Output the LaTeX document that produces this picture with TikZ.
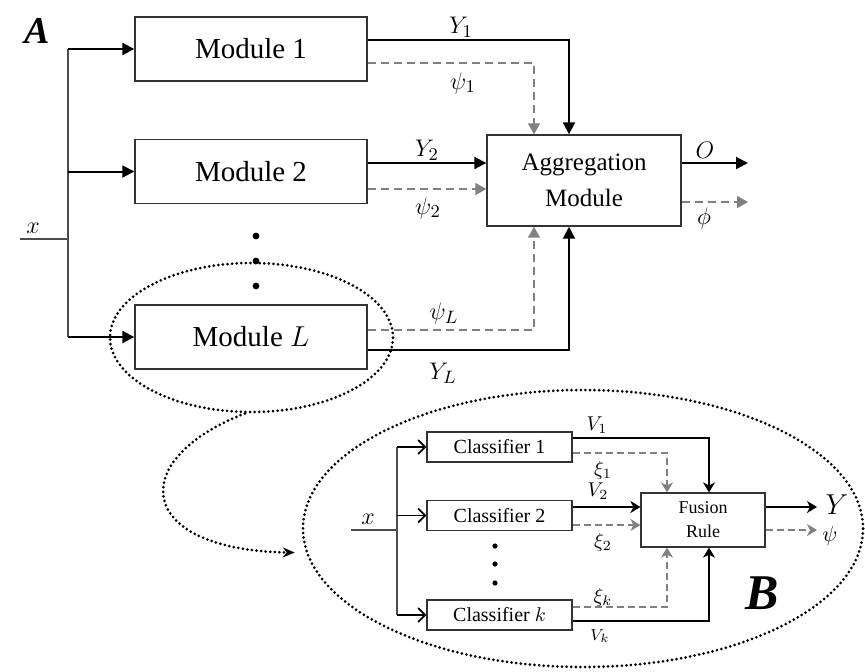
\documentclass[tikz,border=0pt]{standalone}
\usepackage{fontspec}
\setmainfont{Liberation Serif}
\usetikzlibrary{arrows.meta,shapes.geometric}
\begin{document}
\begin{tikzpicture}[x=0.5pt,y=-0.5pt,
  module/.style={draw=black!80,line width=0.7pt,inner sep=0pt,minimum width=116pt,minimum height=32pt,font=\fontsize{14.5}{16}\selectfont},
  classifier/.style={draw=black!80,line width=0.6pt,inner sep=0pt,minimum width=72.5pt,minimum height=15pt,font=\fontsize{10}{12}\selectfont},
  arr/.style={line width=1pt,-{Triangle[length=6pt,width=6pt]}},
  darr/.style={gray,line width=0.75pt,dash pattern=on 4pt off 2.5pt,-{Triangle[length=5.5pt,width=6pt]}},
  barr/.style={line width=0.9pt,-{Stealth[length=5pt,width=6pt,inset=1.5pt]}},
  bdarr/.style={gray,line width=0.65pt,dash pattern=on 3.5pt off 2pt,-{Stealth[length=5pt,width=6pt,inset=1.5pt]}},
  inarr/.style={line width=0.9pt,-{Straight Barb[length=3.5pt,width=7pt]}},
  wire/.style={black!70,line width=0.65pt},
  dots/.style={line width=1.5pt,dash pattern=on 0pt off 2.3pt,line cap=round},
  lab/.style={inner sep=0pt,font=\fontsize{13}{15}\selectfont},
  blab/.style={inner sep=0pt,font=\fontsize{10}{12}\selectfont}]
\useasboundingbox (0,0) rectangle (865,671);

% part A
\node (tagA) [font=\fontsize{19}{20}\selectfont\bfseries\itshape] at (37,31) {A};
\node (m1) [module] at (251,49) {Module 1};
\node (m2) [module] at (251,171.5) {Module 2};
\node (mL) [module] at (251,337) {Module $L$};
\node (agg) [draw=black!80,line width=0.7pt,inner sep=0pt,minimum width=97pt,minimum height=45.5pt,align=center,font=\fontsize{12.5}{18}\selectfont] at (584,180.5) {Aggregation\\Module};

\coordinate (xin) at (20,239);
\coordinate (split) at (68,239);
\node (lx) [lab] at (33,228) {$x$};
\draw [wire] (xin) -- (split);
\draw [wire] (m1.west -| split) -- (mL.west -| split);
\foreach \m in {m1,m2,mL}
  \draw [arr] (\m.west -| split) -- (\m.west);
\foreach \y in {236,261,286}
  \fill (256,\y) circle (1.7pt);

\draw [arr] ([yshift=4.5pt]m1.east) -| ([xshift=-7.5pt]agg.north);
\draw [darr] ([yshift=-7pt]m1.east) -| ([xshift=-25pt]agg.north);
\coordinate (y2) at ([yshift=4.25pt]m2.east);
\coordinate (p2) at ([yshift=-8.75pt]m2.east);
\draw [arr] (y2) -- (y2 -| agg.west);
\draw [darr] (p2) -- (p2 -| agg.west);
\draw [darr] ([yshift=3.5pt]mL.east) -| ([xshift=-25pt]agg.south);
\draw [arr] ([yshift=-6.5pt]mL.east) -| ([xshift=-7.5pt]agg.south);

\coordinate (aout) at (748,0);
\coordinate (o) at ([yshift=8.75pt]agg.east);
\coordinate (f) at ([yshift=-10.75pt]agg.east);
\draw [arr] (o) -- (o -| aout);
\draw [darr] (f) -- (f -| aout);

\node (ly1) [lab] at (461,27) {$Y_1$};
\node (lp1) [lab] at (463,83) {$\psi_1$};
\node (ly2) [lab] at (427,150) {$Y_2$};
\node (lp2) [lab] at (428,208) {$\psi_2$};
\node (lpL) [lab] at (444,313) {$\psi_L$};
\node (lyL) [lab] at (443,373) {$Y_L$};
\node (lo) [lab] at (705,150) {$O$};
\node (lf) [lab] at (704,218) {$\phi$};

% zoom
\node (zoomA) [ellipse,dots,draw,inner sep=0pt,minimum width=141.5pt,minimum height=74.5pt] at (251.5,337.5) {};
\node (zoomB) [ellipse,dots,draw,inner sep=0pt,minimum width=280pt,minimum height=138.5pt] at (583,528.5) {};
\draw [dots,shorten >=5.5pt,-{Stealth[length=6pt,width=5pt,inset=2pt]}] (zoomA.265) .. controls (125,460) and (135,550) .. (zoomB.185);

% part B
\node (tagB) [font=\fontsize{25}{26}\selectfont\bfseries\itshape] at (762,593) {B};
\node (c1) [classifier] at (499.5,447) {Classifier 1};
\node (c2) [classifier] at (499.5,515.5) {Classifier 2};
\node (ck) [classifier] at (499.5,615) {Classifier $k$};
\node (fus) [draw=black!80,line width=0.6pt,inner sep=0pt,minimum width=62pt,minimum height=27pt,align=center,font=\fontsize{9}{12}\selectfont] at (703,520) {Fusion\\Rule};

\coordinate (bxin) at (351,530);
\coordinate (bsplit) at (397,530);
\node (lbx) [lab] at (368,519) {$x$};
\draw [wire] (bxin) -- (bsplit);
\draw [wire] (c1.west -| bsplit) -- (ck.west -| bsplit);
\foreach \c in {c1,c2,ck}
  \draw [inarr] (\c.west -| bsplit) -- (\c.west);
\foreach \y in {546,564,583}
  \fill (495,\y) circle (1.3pt);

\draw [barr] ([yshift=4.5pt]c1.east) -| ([xshift=3pt]fus.north);
\draw [bdarr] ([yshift=-3pt]c1.east) -| ([xshift=-18pt]fus.north);
\coordinate (v2) at ([yshift=4.25pt]c2.east);
\coordinate (x2) at ([yshift=-4.75pt]c2.east);
\draw [barr] (v2) -- (v2 -| fus.west);
\draw [bdarr] (x2) -- (x2 -| fus.west);
\draw [bdarr] ([yshift=4pt]ck.east) -| ([xshift=-18pt]fus.south);
\draw [barr] ([yshift=-3pt]ck.east) -| ([xshift=3pt]fus.south);

\coordinate (bout) at (817,0);
\coordinate (by) at ([yshift=6.5pt]fus.east);
\coordinate (bp) at ([yshift=-5pt]fus.east);
\draw [barr] (by) -- (by -| bout);
\draw [bdarr] (bp) -- (bp -| bout);

\node (lv1) [blab] at (597,425) {$V_1$};
\node (lx1) [blab] at (603,470) {$\xi_1$};
\node (lv2) [blab] at (598,491) {$V_2$};
\node (lx2) [blab] at (603,542) {$\xi_2$};
\node (lxk) [blab] at (603,597) {$\xi_k$};
\node (lvk) [blab,font=\fontsize{8.5}{10}\selectfont] at (600,636) {$V_k$};
\node (lY) [inner sep=0pt,font=\fontsize{15}{17}\selectfont] at (837,505) {$Y$};
\node (lpsi) [inner sep=0pt,font=\fontsize{11}{12}\selectfont] at (830,536) {$\psi$};
\end{tikzpicture}
\end{document}
